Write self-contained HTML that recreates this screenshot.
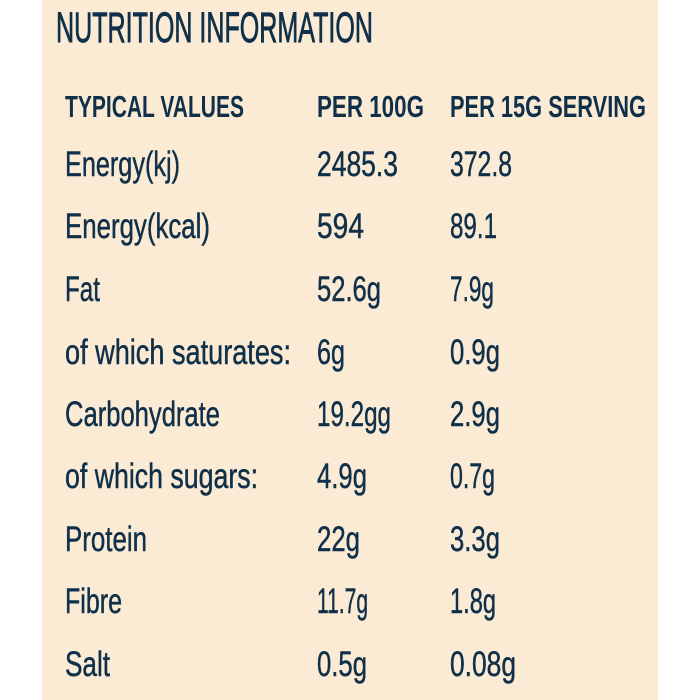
<!DOCTYPE html>
<html><head><meta charset="utf-8"><style>
html,body{margin:0;padding:0;background:#fff;width:700px;height:700px;overflow:hidden}
svg{display:block}
text{font-family:"Liberation Sans Narrow","Liberation Sans",sans-serif;fill:#10304a}
.t{font-size:43px;stroke:#10304a;stroke-width:0.9px}
.h{font-size:31px;font-weight:bold}
.b{font-size:35px;stroke:#10304a;stroke-width:0.5px}
</style></head><body>
<svg width="700" height="700" xmlns="http://www.w3.org/2000/svg">
<rect x="42" y="0" width="616" height="700" fill="#fbebd5"/>
<text class="t" x="56" y="42" textLength="317" lengthAdjust="spacingAndGlyphs">NUTRITION INFORMATION</text>
<text class="h" x="65" y="117" textLength="179" lengthAdjust="spacingAndGlyphs">TYPICAL VALUES</text>
<text class="h" x="317" y="117" textLength="107" lengthAdjust="spacingAndGlyphs">PER 100G</text>
<text class="h" x="450" y="117" textLength="196" lengthAdjust="spacingAndGlyphs">PER 15G SERVING</text>
<text class="b" x="65" y="176" textLength="115" lengthAdjust="spacingAndGlyphs">Energy(kj)</text>
<text class="b" x="317" y="176" textLength="81" lengthAdjust="spacingAndGlyphs">2485.3</text>
<text class="b" x="450" y="176" textLength="62" lengthAdjust="spacingAndGlyphs">372.8</text>
<text class="b" x="65" y="238" textLength="145" lengthAdjust="spacingAndGlyphs">Energy(kcal)</text>
<text class="b" x="317" y="238" textLength="47" lengthAdjust="spacingAndGlyphs">594</text>
<text class="b" x="450" y="238" textLength="47" lengthAdjust="spacingAndGlyphs">89.1</text>
<text class="b" x="65" y="301" textLength="35" lengthAdjust="spacingAndGlyphs">Fat</text>
<text class="b" x="317" y="301" textLength="64" lengthAdjust="spacingAndGlyphs">52.6g</text>
<text class="b" x="450" y="301" textLength="44" lengthAdjust="spacingAndGlyphs">7.9g</text>
<text class="b" x="65" y="364" textLength="226" lengthAdjust="spacingAndGlyphs">of which saturates:</text>
<text class="b" x="317" y="364" textLength="28" lengthAdjust="spacingAndGlyphs">6g</text>
<text class="b" x="450" y="364" textLength="50" lengthAdjust="spacingAndGlyphs">0.9g</text>
<text class="b" x="65" y="426" textLength="155" lengthAdjust="spacingAndGlyphs">Carbohydrate</text>
<text class="b" x="317" y="426" textLength="74" lengthAdjust="spacingAndGlyphs">19.2gg</text>
<text class="b" x="450" y="426" textLength="50" lengthAdjust="spacingAndGlyphs">2.9g</text>
<text class="b" x="65" y="488" textLength="193" lengthAdjust="spacingAndGlyphs">of which sugars:</text>
<text class="b" x="317" y="488" textLength="50" lengthAdjust="spacingAndGlyphs">4.9g</text>
<text class="b" x="450" y="488" textLength="45" lengthAdjust="spacingAndGlyphs">0.7g</text>
<text class="b" x="65" y="551" textLength="82" lengthAdjust="spacingAndGlyphs">Protein</text>
<text class="b" x="317" y="551" textLength="43" lengthAdjust="spacingAndGlyphs">22g</text>
<text class="b" x="450" y="551" textLength="50" lengthAdjust="spacingAndGlyphs">3.3g</text>
<text class="b" x="65" y="613" textLength="57" lengthAdjust="spacingAndGlyphs">Fibre</text>
<text class="b" x="317" y="613" textLength="51" lengthAdjust="spacingAndGlyphs">11.7g</text>
<text class="b" x="450" y="613" textLength="46" lengthAdjust="spacingAndGlyphs">1.8g</text>
<text class="b" x="65" y="676" textLength="45" lengthAdjust="spacingAndGlyphs">Salt</text>
<text class="b" x="317" y="676" textLength="50" lengthAdjust="spacingAndGlyphs">0.5g</text>
<text class="b" x="450" y="676" textLength="66" lengthAdjust="spacingAndGlyphs">0.08g</text>
</svg>
</body></html>
